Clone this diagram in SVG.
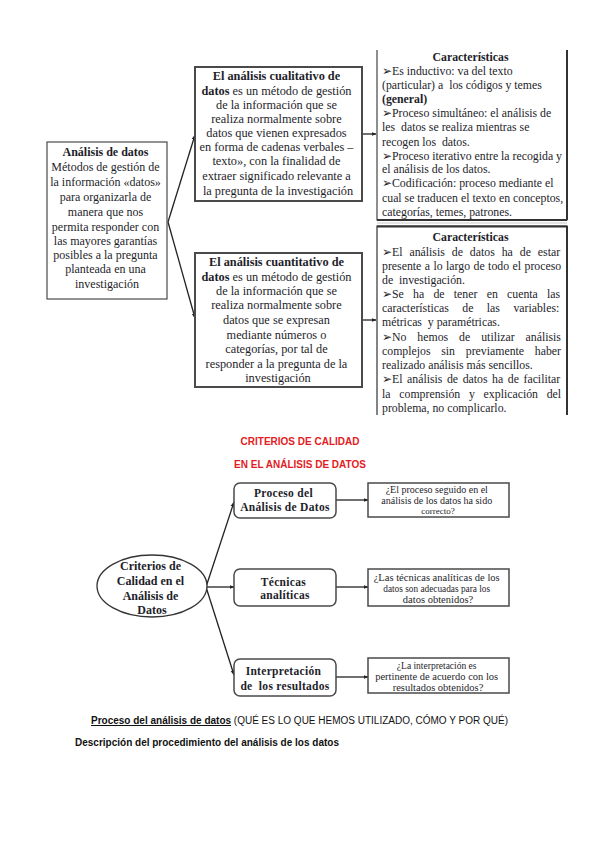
<svg xmlns="http://www.w3.org/2000/svg" width="599" height="848" viewBox="0 0 599 848">
<style>
.serif{font-family:"Liberation Serif","Times New Roman",serif;fill:#1e1e2a}
.c{text-anchor:middle}
.b{font-weight:bold}
.sans{font-family:"Liberation Sans",Arial,sans-serif;fill:#111}
.box{fill:#fff;stroke:#4a4a4a}
.ln{stroke:#222;stroke-width:1.3;fill:none}
.red{font-family:"Liberation Sans",Arial,sans-serif;font-weight:bold;font-size:10px;fill:#e31b23;text-anchor:middle}
</style>
<defs>
<marker id="ah" viewBox="0 0 10 10" refX="9" refY="5" markerWidth="5" markerHeight="5" orient="auto" markerUnits="userSpaceOnUse">
<path d="M0,1 L10,5 L0,9 Z" fill="#222"/>
</marker>
</defs>
<rect width="599" height="848" fill="#fff"/>

<g id="connectors">
<line class="ln" x1="168" y1="222" x2="195" y2="135" marker-end="url(#ah)"/>
<line class="ln" x1="168" y1="222" x2="195" y2="318" marker-end="url(#ah)"/>
<line class="ln" x1="362" y1="134" x2="376" y2="134" marker-end="url(#ah)"/>
<line class="ln" x1="362" y1="320" x2="376" y2="320" marker-end="url(#ah)"/>
<line class="ln" x1="206" y1="587" x2="234" y2="502" marker-end="url(#ah)" stroke-width="1.8"/>
<line class="ln" x1="206" y1="587" x2="234" y2="587" marker-end="url(#ah)" stroke-width="1.8"/>
<line class="ln" x1="206" y1="587" x2="234" y2="675" marker-end="url(#ah)" stroke-width="1.8"/>
<line class="ln" x1="336" y1="500" x2="368" y2="500" marker-end="url(#ah)" stroke-width="1.8"/>
<line class="ln" x1="336" y1="587" x2="368" y2="587" marker-end="url(#ah)" stroke-width="1.8"/>
<line class="ln" x1="336" y1="677" x2="368" y2="677" marker-end="url(#ah)" stroke-width="1.8"/>
</g>

<g id="analisis-datos">
<rect class="box" x="47" y="142" width="120" height="157" stroke-width="1.2" stroke="#333"/>
<text class="serif c" font-size="12" x="107">
<tspan class="b" x="107" y="156">Análisis de datos</tspan>
<tspan x="107" y="171">Métodos de gestión de</tspan>
<tspan x="107" y="186">la información «datos»</tspan>
<tspan x="107" y="201">para organizarla de</tspan>
<tspan x="107" y="216">manera que nos</tspan>
<tspan x="107" y="231">permita responder con</tspan>
<tspan x="107" y="245">las mayores garantías</tspan>
<tspan x="107" y="259">posibles a la pregunta</tspan>
<tspan x="107" y="273">planteada en una</tspan>
<tspan x="107" y="288">investigación</tspan>
</text>
</g>

<g id="cualitativo">
<rect class="box" x="195" y="67" width="167" height="134" stroke-width="2"/>
<text class="serif c" font-size="12.3">
<tspan class="b" x="278" y="80">El análisis cualitativo de</tspan>
<tspan x="278" y="95"><tspan class="b">datos</tspan> es un método de gestión</tspan>
<tspan x="278" y="109">de la información que se</tspan>
<tspan x="278" y="123">realiza normalmente sobre</tspan>
<tspan x="278" y="137">datos que vienen expresados</tspan>
<tspan x="278" y="151">en forma de cadenas verbales –</tspan>
<tspan x="278" y="165">texto», con la finalidad de</tspan>
<tspan x="278" y="180">extraer significado relevante a</tspan>
<tspan x="278" y="195">la pregunta de la investigación</tspan>
</text>
</g>

<g id="cuantitativo">
<rect class="box" x="195" y="253" width="167" height="134" stroke-width="2"/>
<text class="serif c" font-size="12.3">
<tspan class="b" x="278" y="266">El análisis cuantitativo de</tspan>
<tspan x="278" y="281"><tspan class="b">datos</tspan> es un método de gestión</tspan>
<tspan x="278" y="295">de la información que se</tspan>
<tspan x="278" y="309">realiza normalmente sobre</tspan>
<tspan x="278" y="324">datos que se expresan</tspan>
<tspan x="278" y="339">mediante números o</tspan>
<tspan x="278" y="353">categorías, por tal de</tspan>
<tspan x="278" y="368">responder a la pregunta de la</tspan>
<tspan x="278" y="382">investigación</tspan>
</text>
</g>

<g id="caracteristicas-1">
<path d="M377,50 V220 H567 V50" fill="none" stroke="#444" stroke-width="1.2"/>
<line x1="567" y1="50" x2="567" y2="220" stroke="#333" stroke-width="2"/>
<line x1="377" y1="220" x2="567" y2="220" stroke="#333" stroke-width="2"/>
<text class="serif" font-size="11.8">
<tspan class="b c" x="472" y="61">Características</tspan>
<tspan x="382" y="75">➢Es inductivo: va del texto</tspan>
<tspan x="382" y="89">(particular) a&#160; los códigos y temes</tspan>
<tspan class="b" x="382" y="103">(general)</tspan>
<tspan x="382" y="117">➢Proceso simultáneo: el análisis de</tspan>
<tspan x="382" y="131">les&#160; datos se realiza mientras se</tspan>
<tspan x="382" y="146">recogen los&#160; datos.</tspan>
<tspan x="382" y="160">➢Proceso iterativo entre la recogida y</tspan>
<tspan x="382" y="173">el análisis de los datos.</tspan>
<tspan x="382" y="187">➢Codificación: proceso mediante el</tspan>
<tspan x="382" y="202">cual se traducen el texto en conceptos,</tspan>
<tspan x="382" y="216">categorías, temes, patrones.</tspan>
</text>
</g>

<g id="caracteristicas-2">
<line x1="377" y1="223" x2="567" y2="223" stroke="#bbb" stroke-width="0.8"/>
<path d="M377,415 V226 H567 V415" fill="none" stroke="#333" stroke-width="1.2"/>
<line x1="377" y1="226.5" x2="567" y2="226.5" stroke="#333" stroke-width="2"/>
<line x1="567" y1="226" x2="567" y2="415" stroke="#333" stroke-width="2"/>
<text class="serif" font-size="11.8">
<tspan class="b c" x="472" y="241">Características</tspan>
<tspan x="382" y="256" word-spacing="4">➢El análisis de datos ha de estar</tspan>
<tspan x="382" y="270" word-spacing="0.5">presente a lo largo de todo el proceso</tspan>
<tspan x="382" y="284">de&#160; investigación.</tspan>
<tspan x="382" y="298" word-spacing="6.3">➢Se ha de tener en cuenta las</tspan>
<tspan x="382" y="312" word-spacing="10.5">características de las variables:</tspan>
<tspan x="382" y="326">métricas&#160; y paramétricas.</tspan>
<tspan x="382" y="341" word-spacing="8">➢No hemos de utilizar análisis</tspan>
<tspan x="382" y="355" word-spacing="7.8">complejos sin previamente haber</tspan>
<tspan x="382" y="369">realizado análisis más sencillos.</tspan>
<tspan x="382" y="383" word-spacing="1.6">➢El análisis de datos ha de facilitar</tspan>
<tspan x="382" y="398" word-spacing="5.8">la comprensión y explicación del</tspan>
<tspan x="382" y="412">problema, no complicarlo.</tspan>
</text>
</g>

<g id="titulo">
<text class="red" x="300" y="445">CRITERIOS DE CALIDAD</text>
<text class="red" x="300" y="468">EN EL ANÁLISIS DE DATOS</text>
</g>

<g id="criterios">
<ellipse cx="152" cy="586" rx="55" ry="31" fill="#fff" stroke="#333" stroke-width="1.3"/>
<text class="serif c b" font-size="12">
<tspan x="152" y="570">Criterios de</tspan>
<tspan x="152" y="585">Calidad en el</tspan>
<tspan x="152" y="600">Análisis de</tspan>
<tspan x="152" y="614">Datos</tspan>
</text>
</g>

<g id="proceso">
<rect class="box" x="234" y="483" width="102" height="35" rx="6" stroke="#333" stroke-width="1.5"/>
<text class="serif c b" font-size="11.5" letter-spacing="0.3">
<tspan x="285" y="497">Proceso del</tspan>
<tspan x="285" y="511">Análisis de Datos</tspan>
</text>
</g>

<g id="tecnicas">
<rect class="box" x="234" y="569" width="102" height="37" rx="6" stroke="#333" stroke-width="1.5"/>
<text class="serif c b" font-size="11.5" letter-spacing="0.3">
<tspan x="285" y="586">Técnicas</tspan>
<tspan x="285" y="599">analíticas</tspan>
</text>
</g>

<g id="interpretacion">
<rect class="box" x="234" y="659" width="102" height="37" rx="6" stroke="#333" stroke-width="1.5"/>
<text class="serif c b" font-size="11.5" letter-spacing="0.3">
<tspan x="285" y="675">Interpretación</tspan>
<tspan x="285" y="690">de&#160; los resultados</tspan>
</text>
</g>

<g id="pregunta-1">
<rect class="box" x="368" y="483" width="141" height="34" stroke="#333" stroke-width="1.5"/>
<text class="serif c" font-size="10">
<tspan x="438" y="493">¿El proceso seguido en el</tspan>
<tspan x="438" y="504">análisis de los datos ha sido</tspan>
<tspan x="438" y="514" font-size="9">correcto?</tspan>
</text>
</g>

<g id="pregunta-2">
<rect class="box" x="368" y="569" width="141" height="37" stroke="#333" stroke-width="1.5"/>
<text class="serif c" font-size="10.5">
<tspan x="438" y="581">¿Las técnicas analíticas de los</tspan>
<tspan x="438" y="592" font-size="9.3">datos son adecuadas para los</tspan>
<tspan x="438" y="603">datos obtenidos?</tspan>
</text>
</g>

<g id="pregunta-3">
<rect class="box" x="368" y="658" width="141" height="35" stroke="#333" stroke-width="1.5"/>
<text class="serif c" font-size="10.5">
<tspan x="438" y="669" font-size="9.5">¿La interpretación es</tspan>
<tspan x="438" y="680">pertinente de acuerdo con los</tspan>
<tspan x="438" y="691">resultados obtenidos?</tspan>
</text>
</g>

<g id="pie">
<text class="sans" font-size="10" x="91" y="724"><tspan font-weight="bold" text-decoration="underline">Proceso del análisis de datos</tspan> (QUÉ ES LO QUE HEMOS UTILIZADO, CÓMO Y POR QUÉ)</text>
<text class="sans" font-size="10" font-weight="bold" x="75" y="746">Descripción del procedimiento del análisis de los datos</text>
</g>
</svg>
